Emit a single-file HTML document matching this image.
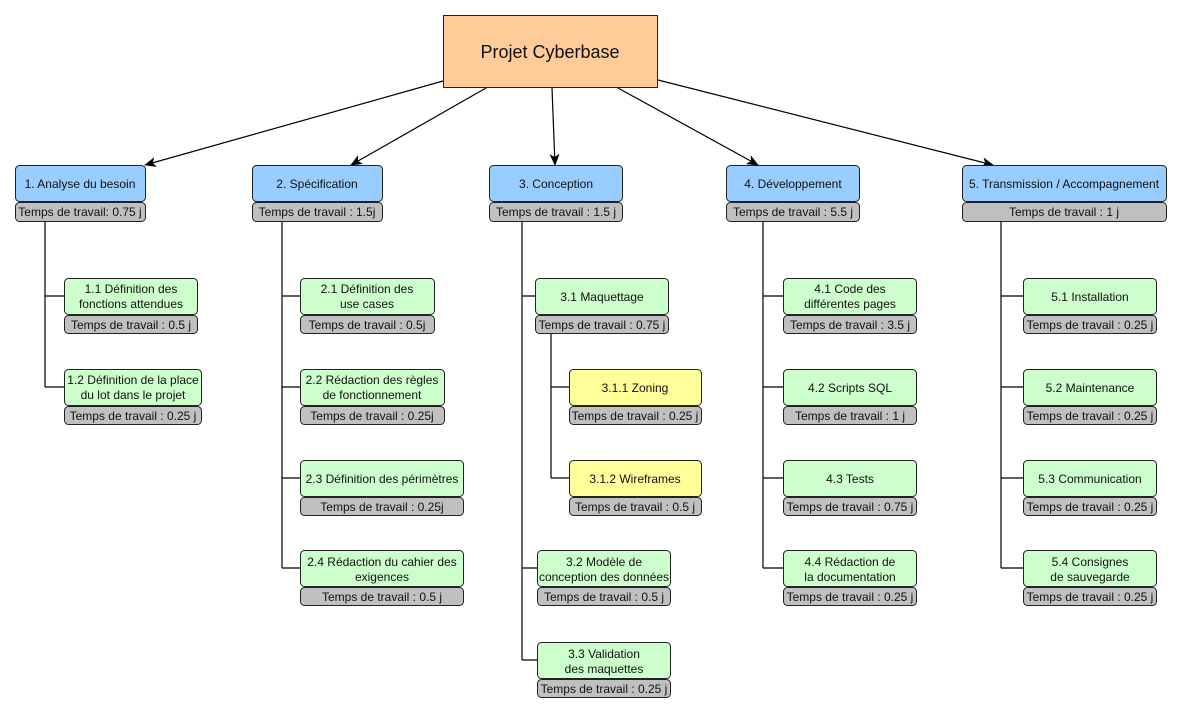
<!DOCTYPE html>
<html><head><meta charset="utf-8"><style>
html,body{margin:0;padding:0;background:#fff;}
svg{display:block;font-family:"Liberation Sans",sans-serif;}
.b{fill:#99ccff;stroke:#222;stroke-width:1}
.g{fill:#ccffcc;stroke:#222;stroke-width:1}
.y{fill:#ffff99;stroke:#222;stroke-width:1}
.t{fill:#c0c0c0;stroke:#222;stroke-width:1}
text{font-size:12px;fill:#111;text-anchor:middle}
.l{stroke:#000;stroke-width:1.2;fill:none}
</style></head><body>
<svg width="1182" height="715" viewBox="0 0 1182 715" xmlns="http://www.w3.org/2000/svg">
<defs><marker id="a" markerWidth="12" markerHeight="10" refX="11" refY="5" orient="auto" markerUnits="userSpaceOnUse"><path d="M0,0 L12,5 L0,10 L3,5 z" fill="#000"/></marker></defs>
<!-- arrows -->
<line class="l" x1="443" y1="81" x2="145" y2="165" marker-end="url(#a)"/>
<line class="l" x1="486" y1="88" x2="351" y2="165" marker-end="url(#a)"/>
<line class="l" x1="552" y1="88" x2="555" y2="165" marker-end="url(#a)"/>
<line class="l" x1="618" y1="88" x2="758" y2="165" marker-end="url(#a)"/>
<line class="l" x1="658" y1="80" x2="993" y2="165" marker-end="url(#a)"/>
<!-- root -->
<rect x="443.5" y="15.5" width="214" height="72" fill="#ffcc99" stroke="#222"/>
<text x="550" y="58" style="font-size:18px">Projet Cyberbase</text>
<!-- tree lines -->
<path class="l" d="M45,221 V387 M45,296 H64 M45,387 H64"/>
<path class="l" d="M282,221 V568 M282,296 H300 M282,387 H300 M282,478 H300 M282,568 H300"/>
<path class="l" d="M522,221 V660 M522,296 H535 M522,568 H537 M522,660 H537"/>
<path class="l" d="M551,333 V478 M551,387 H569 M551,478 H569"/>
<path class="l" d="M763,221 V568 M763,296 H783 M763,387 H783 M763,478 H783 M763,568 H783"/>
<path class="l" d="M1001,221 V568 M1001,296 H1023 M1001,387 H1023 M1001,478 H1023 M1001,568 H1023"/>
<!-- level 1 -->
<rect class="b" x="15.5" y="165.5" width="130" height="36" rx="4"/><text x="80" y="188">1. Analyse du besoin</text>
<rect class="t" x="15.5" y="202.5" width="130" height="19" rx="4"/><text x="80" y="216">Temps de travail: 0.75 j</text>
<rect class="b" x="252.5" y="165.5" width="130" height="36" rx="4"/><text x="317" y="188">2. Spécification</text>
<rect class="t" x="252.5" y="202.5" width="130" height="19" rx="4"/><text x="317" y="216">Temps de travail : 1.5j</text>
<rect class="b" x="489.5" y="165.5" width="133" height="36" rx="4"/><text x="556" y="188">3. Conception</text>
<rect class="t" x="489.5" y="202.5" width="133" height="19" rx="4"/><text x="556" y="216">Temps de travail : 1.5 j</text>
<rect class="b" x="726.5" y="165.5" width="133" height="36" rx="4"/><text x="793" y="188">4. Développement</text>
<rect class="t" x="726.5" y="202.5" width="133" height="19" rx="4"/><text x="793" y="216">Temps de travail : 5.5 j</text>
<rect class="b" x="962.5" y="165.5" width="204" height="36" rx="4"/><text x="1064" y="188">5. Transmission / Accompagnement</text>
<rect class="t" x="962.5" y="202.5" width="204" height="19" rx="4"/><text x="1064" y="216">Temps de travail : 1 j</text>
<!-- 1.x -->
<rect class="g" x="64.5" y="278.5" width="133" height="36" rx="4"/><text x="131" y="293">1.1 Définition des</text><text x="131" y="308">fonctions attendues</text>
<rect class="t" x="64.5" y="315.5" width="133" height="18" rx="4"/><text x="131" y="329">Temps de travail : 0.5 j</text>
<rect class="g" x="64.5" y="369.5" width="137" height="36" rx="4"/><text x="133" y="384">1.2 Définition de la place</text><text x="133" y="399">du lot dans le projet</text>
<rect class="t" x="64.5" y="406.5" width="137" height="18" rx="4"/><text x="133" y="420">Temps de travail : 0.25 j</text>
<!-- 2.x -->
<rect class="g" x="300.5" y="278.5" width="134" height="36" rx="4"/><text x="367" y="293">2.1 Définition des</text><text x="367" y="308">use cases</text>
<rect class="t" x="300.5" y="315.5" width="134" height="18" rx="4"/><text x="367" y="329">Temps de travail : 0.5j</text>
<rect class="g" x="300.5" y="369.5" width="144" height="36" rx="4"/><text x="372" y="384">2.2 Rédaction des règles</text><text x="372" y="399">de fonctionnement</text>
<rect class="t" x="300.5" y="406.5" width="144" height="18" rx="4"/><text x="372" y="420">Temps de travail : 0.25j</text>
<rect class="g" x="300.5" y="460.5" width="163" height="36" rx="4"/><text x="382" y="483">2.3 Définition des périmètres</text>
<rect class="t" x="300.5" y="497.5" width="163" height="18" rx="4"/><text x="382" y="511">Temps de travail : 0.25j</text>
<rect class="g" x="300.5" y="550.5" width="163" height="36" rx="4"/><text x="382" y="566">2.4 Rédaction du cahier des</text><text x="382" y="581">exigences</text>
<rect class="t" x="300.5" y="587.5" width="163" height="18" rx="4"/><text x="382" y="601">Temps de travail : 0.5 j</text>
<!-- 3.x -->
<rect class="g" x="535.5" y="278.5" width="133" height="36" rx="4"/><text x="602" y="301">3.1 Maquettage</text>
<rect class="t" x="535.5" y="315.5" width="133" height="18" rx="4"/><text x="602" y="329">Temps de travail : 0.75 j</text>
<rect class="y" x="569.5" y="369.5" width="132" height="36" rx="4"/><text x="635" y="392">3.1.1 Zoning</text>
<rect class="t" x="569.5" y="406.5" width="132" height="18" rx="4"/><text x="635" y="420">Temps de travail : 0.25 j</text>
<rect class="y" x="569.5" y="460.5" width="132" height="36" rx="4"/><text x="635" y="483">3.1.2 Wireframes</text>
<rect class="t" x="569.5" y="497.5" width="132" height="18" rx="4"/><text x="635" y="511">Temps de travail : 0.5 j</text>
<rect class="g" x="537.5" y="550.5" width="133" height="36" rx="4"/><text x="604" y="566">3.2 Modèle de</text><text x="604" y="581">conception des données</text>
<rect class="t" x="537.5" y="587.5" width="133" height="18" rx="4"/><text x="604" y="601">Temps de travail : 0.5 j</text>
<rect class="g" x="537.5" y="642.5" width="133" height="36" rx="4"/><text x="604" y="658">3.3 Validation</text><text x="604" y="673">des maquettes</text>
<rect class="t" x="537.5" y="679.5" width="133" height="18" rx="4"/><text x="604" y="693">Temps de travail : 0.25 j</text>
<!-- 4.x -->
<rect class="g" x="783.5" y="278.5" width="133" height="36" rx="4"/><text x="850" y="293">4.1 Code des</text><text x="850" y="308">différentes pages</text>
<rect class="t" x="783.5" y="315.5" width="133" height="18" rx="4"/><text x="850" y="329">Temps de travail : 3.5 j</text>
<rect class="g" x="783.5" y="369.5" width="133" height="36" rx="4"/><text x="850" y="392">4.2 Scripts SQL</text>
<rect class="t" x="783.5" y="406.5" width="133" height="18" rx="4"/><text x="850" y="420">Temps de travail : 1 j</text>
<rect class="g" x="783.5" y="460.5" width="133" height="36" rx="4"/><text x="850" y="483">4.3 Tests</text>
<rect class="t" x="783.5" y="497.5" width="133" height="18" rx="4"/><text x="850" y="511">Temps de travail : 0.75 j</text>
<rect class="g" x="783.5" y="550.5" width="133" height="36" rx="4"/><text x="850" y="566">4.4 Rédaction de</text><text x="850" y="581">la documentation</text>
<rect class="t" x="783.5" y="587.5" width="133" height="18" rx="4"/><text x="850" y="601">Temps de travail : 0.25 j</text>
<!-- 5.x -->
<rect class="g" x="1023.5" y="278.5" width="133" height="36" rx="4"/><text x="1090" y="301">5.1 Installation</text>
<rect class="t" x="1023.5" y="315.5" width="133" height="18" rx="4"/><text x="1090" y="329">Temps de travail : 0.25 j</text>
<rect class="g" x="1023.5" y="369.5" width="133" height="36" rx="4"/><text x="1090" y="392">5.2 Maintenance</text>
<rect class="t" x="1023.5" y="406.5" width="133" height="18" rx="4"/><text x="1090" y="420">Temps de travail : 0.25 j</text>
<rect class="g" x="1023.5" y="460.5" width="133" height="36" rx="4"/><text x="1090" y="483">5.3 Communication</text>
<rect class="t" x="1023.5" y="497.5" width="133" height="18" rx="4"/><text x="1090" y="511">Temps de travail : 0.25 j</text>
<rect class="g" x="1023.5" y="550.5" width="133" height="36" rx="4"/><text x="1090" y="566">5.4 Consignes</text><text x="1090" y="581">de sauvegarde</text>
<rect class="t" x="1023.5" y="587.5" width="133" height="18" rx="4"/><text x="1090" y="601">Temps de travail : 0.25 j</text>
</svg>
</body></html>
